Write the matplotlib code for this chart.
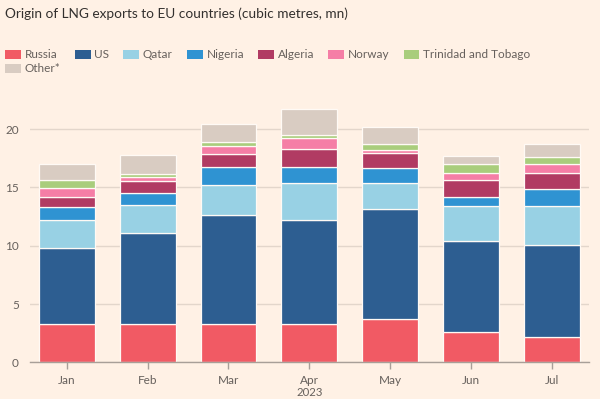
import matplotlib
matplotlib.use("Agg")
import matplotlib.pyplot as plt
import numpy as np

months = ["Jan", "Feb", "Mar", "Apr", "May", "Jun", "Jul"]
series_names = ["Russia", "US", "Qatar", "Nigeria", "Algeria", "Norway",
                "Trinidad and Tobago", "Other*"]
russia = [3.27, 3.27, 3.30, 3.27, 3.73, 2.64, 2.16]
us = [6.51, 7.85, 9.34, 8.91, 9.45, 7.77, 7.88]
qatar = [2.40, 2.35, 2.54, 3.18, 2.20, 3.00, 3.37]
nigeria = [1.17, 1.03, 1.57, 1.42, 1.26, 0.74, 1.49]
algeria = [0.85, 1.08, 1.09, 1.54, 1.28, 1.49, 1.37]
norway = [0.73, 0.29, 0.74, 0.88, 0.28, 0.57, 0.73]
trinidad = [0.67, 0.28, 0.34, 0.30, 0.52, 0.79, 0.58]
other = [1.45, 1.65, 1.52, 2.20, 1.48, 0.67, 1.12]

colors = ["#f15a64", "#2d5e91", "#98d1e4", "#2f93d2", "#b13b63",
          "#f57ea6", "#a9cd7c", "#d9ccc2"]

BG = "#fff1e5"
TXT = "#66605c"

fig = plt.figure(figsize=(6.0, 3.99), dpi=100, facecolor=BG)
ax = fig.add_axes([0.05, 0.0915, 0.9317, 0.6434], facecolor=BG)

data = [russia, us, qatar, nigeria, algeria, norway, trinidad, other]
x = np.arange(len(months))
bottom = np.zeros(len(months))
handles = []
for name, vals, c in zip(series_names, data, colors):
    vals = np.array(vals)
    b = ax.bar(x, vals, bottom=bottom, width=0.69, color=c,
               edgecolor="#fffaf5", linewidth=0.9, label=name, zorder=3)
    handles.append(b)
    bottom += vals

ax.set_xlim(-0.455, 6.46)
ax.set_ylim(0, 22)
ax.set_yticks([0, 5, 10, 15, 20])
ax.set_xticks(x)
ax.set_xticklabels(months)
for s in ["top", "right", "left"]:
    ax.spines[s].set_visible(False)
ax.spines["bottom"].set_color("#a89f98")
ax.spines["bottom"].set_linewidth(1.0)
ax.spines["bottom"].set_zorder(4)
ax.grid(axis="y", color="#e3d6cb", linewidth=1.0, zorder=0)
ax.tick_params(axis="y", length=0, pad=8, labelsize=8.5, labelcolor=TXT)
ax.tick_params(axis="x", length=5, width=1, color="#a89f98", pad=4,
               labelsize=8.5, labelcolor=TXT)
for lab in ax.get_xticklabels() + ax.get_yticklabels():
    lab.set_family("Lato")

fig.text(0.0085, 0.965, "Origin of LNG exports to EU countries (cubic metres, mn)",
         ha="left", va="center", fontsize=9.8, color="#33302e", family="Lato")

# legend: column-major fill puts Other* under Russia
order = [0, 7, 1, 2, 3, 4, 5, 6]
leg = fig.legend([handles[i] for i in order], [series_names[i] for i in order],
                 ncol=7, loc="upper left", bbox_to_anchor=(0.009, 0.876),
                 frameon=False, handlelength=1.35, handleheight=0.75,
                 handletextpad=0.3, columnspacing=1.2, labelspacing=0.25,
                 prop={"family": "Lato", "size": 8.5}, borderaxespad=0.0,
                 borderpad=0.0)
for t in leg.get_texts():
    t.set_color(TXT)
for h in leg.legend_handles:
    h.set_linewidth(0)

ax.annotate("2023", xy=(x[3], 0), xycoords=("data", "axes fraction"),
            xytext=(0, -18), textcoords="offset points", ha="center", va="top",
            fontsize=8.2, color=TXT, family="Lato", annotation_clip=False)

fig.savefig("out.png", dpi=100, facecolor=BG)
